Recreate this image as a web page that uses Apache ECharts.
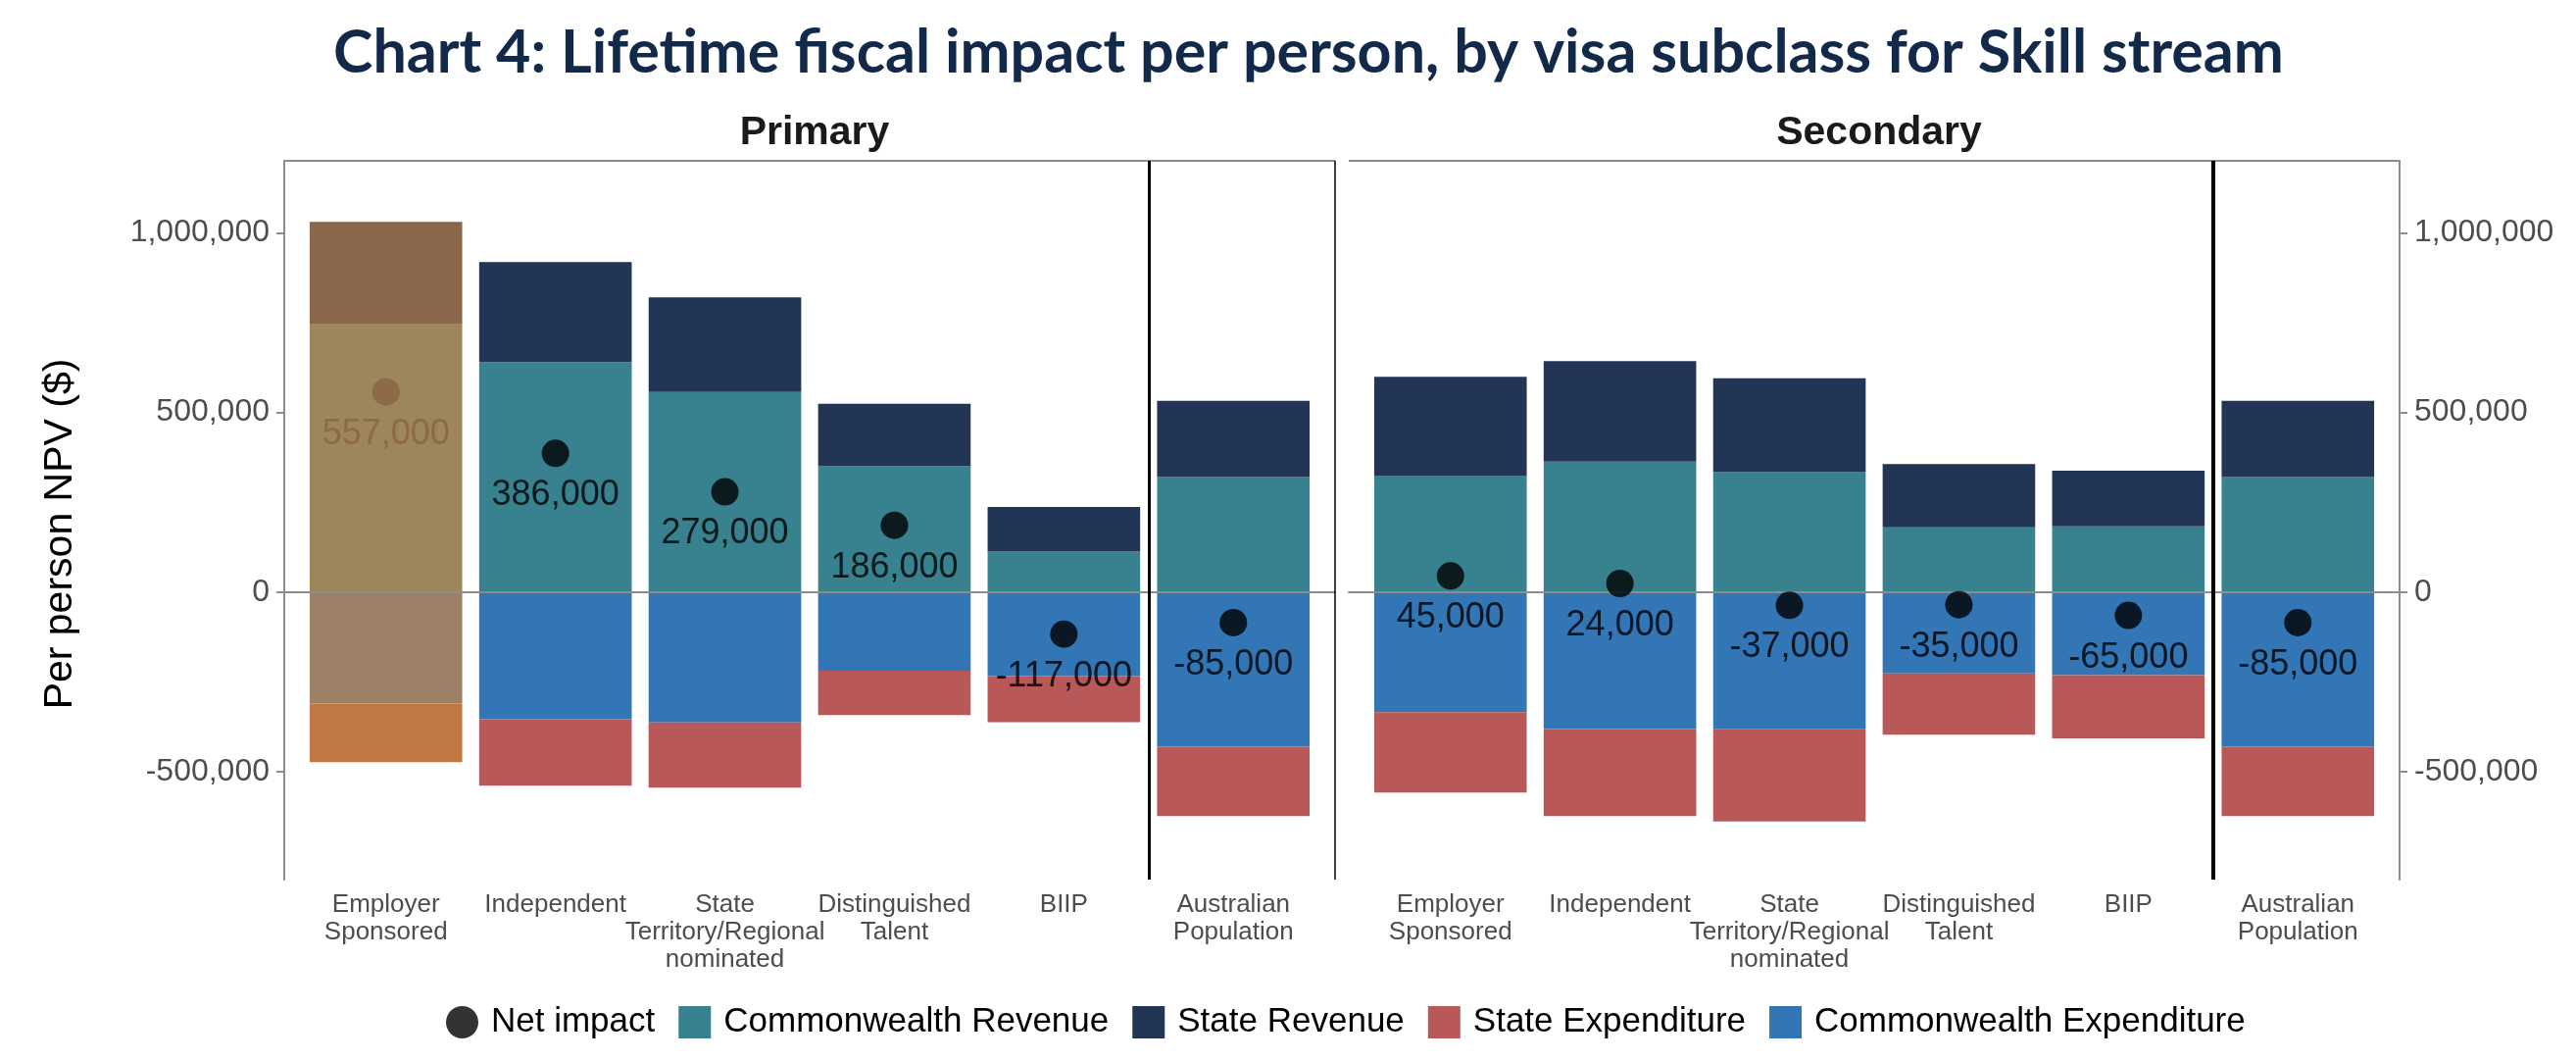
<!DOCTYPE html>
<html>
<head>
<meta charset="utf-8">
<title>Chart 4: Lifetime fiscal impact per person</title>
<script src="https://cdn.jsdelivr.net/npm/echarts@6/dist/echarts.min.js"></script>
<style>
  html, body { margin: 0; padding: 0; background: #fff; }
  #chart { width: 2628px; height: 1082px; }
</style>
</head>
<body>
<div id="chart"></div>
<script>
// 类别（x轴）
const categories = ['Employer\nSponsored', 'Independent', 'State\nTerritory/Regional\nnominated', 'Distinguished\nTalent', 'BIIP', 'Australian\nPopulation'];
const yTicks = [-500000, 0, 500000, 1000000];

// Primary 面板
const primaryCwRevenue = [747000, 640000, 557000, 350000, 113000, 320000];
const primaryStateRevenue = [283000, 278000, 263000, 174000, 124000, 212000];
const primaryCwExpenditure = [-310000, -354000, -363000, -219000, -234000, -430000];
const primaryStateExpenditure = [-163000, -185000, -181000, -123000, -128000, -193000];
const primaryNet = [557000, 386000, 279000, 186000, -117000, -85000];

// Secondary 面板
const secondaryCwRevenue = [324000, 363000, 334000, 180000, 183000, 320000];
const secondaryStateRevenue = [275000, 280000, 261000, 176000, 155000, 212000];
const secondaryCwExpenditure = [-334000, -381000, -382000, -226000, -231000, -430000];
const secondaryStateExpenditure = [-224000, -242000, -256000, -171000, -176000, -193000];
const secondaryNet = [45000, 24000, -37000, -35000, -65000, -85000];

const COLORS = {
    cwRev: '#38818f',
    stRev: '#233554',
    stExp: '#b85858',
    cwExp: '#3276b5'
};
// 第一根柱子的高亮覆盖色
const HIGHLIGHT = {
    cwRev: '#9d8659',
    stRev: '#8a674a',
    stExp: '#c27845',
    cwExp: '#9d8065',
    net: '#8a6441'
};

const FONT = 'Liberation Sans, Arial, sans-serif';
const Y_MIN = -800000;
const Y_MAX = 1200000;
const positions = categories.map((c, i) => i + 1);

// 面板位置（ggplot 风格：两侧各留 0.6 个类别宽度）
const PANELS = [
    { left: 290, right: 1362 },
    { left: 1376, right: 2448 }
];
const TOP = 164;
const BOTTOM = 897;
const W = 2628;
const H = 1082;

function fmt(v) {
    return v.toLocaleString('en-US');
}

function styled(values, hlColor, pos) {
    return values.map((v, i) => {
        const item = { value: pos ? [pos[i], v] : v };
        if (hlColor && i === 0) {
            item.itemStyle = { color: hlColor };
            item.label = { color: hlColor };
        }
        return item;
    });
}

function panelSeries(idx, d, hl) {
    const base = {
        type: 'bar',
        xAxisIndex: idx + 2,
        yAxisIndex: idx + 2,
        stack: 'panel' + idx,
        barWidth: '90%',
        z: 2
    };
    const lines = [
        { yAxis: 0, lineStyle: { color: '#8c8c8c', width: 2 } },
        { yAxis: Y_MAX, lineStyle: { color: '#8c8c8c', width: 2 } },
        { xAxis: 5.5, lineStyle: { color: '#000', width: idx === 0 ? 3 : 4 } }
    ];
    if (idx === 0) {
        lines.push({ xAxis: 6.6, lineStyle: { color: '#000', width: 1.5 } });
    }
    return [
        { ...base, name: 'Commonwealth Revenue', itemStyle: { color: COLORS.cwRev }, data: styled(d.cwRev, hl && hl.cwRev) },
        { ...base, name: 'State Revenue', itemStyle: { color: COLORS.stRev }, data: styled(d.stRev, hl && hl.stRev) },
        { ...base, name: 'Commonwealth Expenditure', itemStyle: { color: COLORS.cwExp }, data: styled(d.cwExp, hl && hl.cwExp) },
        { ...base, name: 'State Expenditure', itemStyle: { color: COLORS.stExp }, data: styled(d.stExp, hl && hl.stExp) },
        {
            type: 'scatter',
            name: 'Net impact',
            xAxisIndex: idx,
            yAxisIndex: idx,
            symbolSize: 28,
            z: 10,
            itemStyle: { color: '#000' },
            label: {
                show: true,
                position: 'bottom',
                distance: 10,
                fontSize: 36,
                lineHeight: 38,
                fontFamily: FONT,
                color: '#000',
                formatter: p => fmt(p.value[1])
            },
            markLine: {
                silent: true,
                z: 5,
                symbol: ['none', 'none'],
                label: { show: false },
                lineStyle: { type: 'solid' },
                emphasis: { disabled: true },
                data: lines
            },
            data: styled(d.net, hl && hl.net, positions)
        }
    ];
}

// 外框网格：数值型 x 轴，负责坐标轴、刻度和标签
function frameXAxis(idx) {
    return {
        type: 'value',
        gridIndex: idx,
        min: 0.4,
        max: 6.6,
        splitLine: { show: false },
        axisLine: { show: true, lineStyle: { color: '#8c8c8c', width: 2 } },
        axisTick: { show: true, customValues: positions, length: 8, lineStyle: { color: '#8c8c8c', width: 2 } },
        axisLabel: {
            customValues: positions,
            margin: 12,
            fontSize: 26,
            lineHeight: 28,
            fontFamily: FONT,
            color: '#4d4d4d',
            formatter: v => categories[Math.round(v) - 1] || ''
        }
    };
}

function frameYAxis(idx) {
    const axis = {
        type: 'value',
        gridIndex: idx,
        position: idx === 0 ? 'left' : 'right',
        min: Y_MIN,
        max: Y_MAX,
        splitLine: { show: false },
        axisLine: { show: true, lineStyle: { color: '#8c8c8c', width: 2 } },
        axisTick: { show: true, customValues: yTicks, length: 8, lineStyle: { color: '#8c8c8c', width: 2 } },
        axisLabel: {
            customValues: yTicks,
            margin: 15,
            fontSize: 32,
            fontFamily: FONT,
            color: '#4d4d4d',
            formatter: v => fmt(v)
        }
    };
    if (idx === 0) {
        axis.name = 'Per person NPV ($)';
        axis.nameLocation = 'middle';
        axis.nameGap = 208;
        axis.nameTextStyle = { fontSize: 41, fontFamily: FONT, color: '#000', padding: [0, 28, 0, 0] };
    }
    return axis;
}

// 柱子网格：类别轴（隐藏），与外框对齐
function barXAxis(idx) {
    return { type: 'category', gridIndex: idx + 2, data: categories, show: false };
}

function barYAxis(idx) {
    return { type: 'value', gridIndex: idx + 2, min: Y_MIN, max: Y_MAX, show: false };
}

function frameGrid(p) {
    return { left: p.left, right: W - p.right, top: TOP, bottom: H - BOTTOM, outerBoundsMode: 'none' };
}

function barGrid(p) {
    const unit = (p.right - p.left) / 6.2;
    return {
        left: p.left + unit * 0.1,
        right: W - (p.right - unit * 0.1),
        top: TOP,
        bottom: H - BOTTOM,
        outerBoundsMode: 'none'
    };
}

const chart = echarts.init(document.getElementById('chart'));

const option = {
    animation: false,
    backgroundColor: '#fff',
    title: [
        {
            text: 'Chart 4: Lifetime fiscal impact per person, by visa subclass for Skill stream',
            left: 1330,
            top: 19,
            textAlign: 'center',
            textStyle: { fontFamily: 'Lato, Open Sans, sans-serif', fontWeight: 'bold', fontSize: 61, color: '#12294a' }
        },
        {
            text: 'Primary',
            left: 826,
            top: 110,
            textAlign: 'center',
            textStyle: { fontFamily: FONT, fontWeight: 'bold', fontSize: 41, color: '#1a1a1a' }
        },
        {
            text: 'Secondary',
            left: 1912,
            top: 110,
            textAlign: 'center',
            textStyle: { fontFamily: FONT, fontWeight: 'bold', fontSize: 41, color: '#1a1a1a' }
        }
    ],
    legend: {
        left: 450,
        top: 1020,
        itemWidth: 33,
        itemHeight: 33,
        itemGap: 24,
        textStyle: { fontSize: 35, fontFamily: FONT, color: '#000', padding: [0, 0, 0, 8] },
        data: [
            { name: 'Net impact', icon: 'circle', itemStyle: { color: '#000' } },
            { name: 'Commonwealth Revenue', icon: 'rect' },
            { name: 'State Revenue', icon: 'rect' },
            { name: 'State Expenditure', icon: 'rect' },
            { name: 'Commonwealth Expenditure', icon: 'rect' }
        ]
    },
    grid: [frameGrid(PANELS[0]), frameGrid(PANELS[1]), barGrid(PANELS[0]), barGrid(PANELS[1])],
    xAxis: [frameXAxis(0), frameXAxis(1), barXAxis(0), barXAxis(1)],
    yAxis: [frameYAxis(0), frameYAxis(1), barYAxis(0), barYAxis(1)],
    series: [].concat(
        panelSeries(0, {
            cwRev: primaryCwRevenue,
            stRev: primaryStateRevenue,
            cwExp: primaryCwExpenditure,
            stExp: primaryStateExpenditure,
            net: primaryNet
        }, HIGHLIGHT),
        panelSeries(1, {
            cwRev: secondaryCwRevenue,
            stRev: secondaryStateRevenue,
            cwExp: secondaryCwExpenditure,
            stExp: secondaryStateExpenditure,
            net: secondaryNet
        }, null)
    )
};

chart.setOption(option);

window.addEventListener('resize', function() {
    chart.resize();
});
</script>
</body>
</html>
